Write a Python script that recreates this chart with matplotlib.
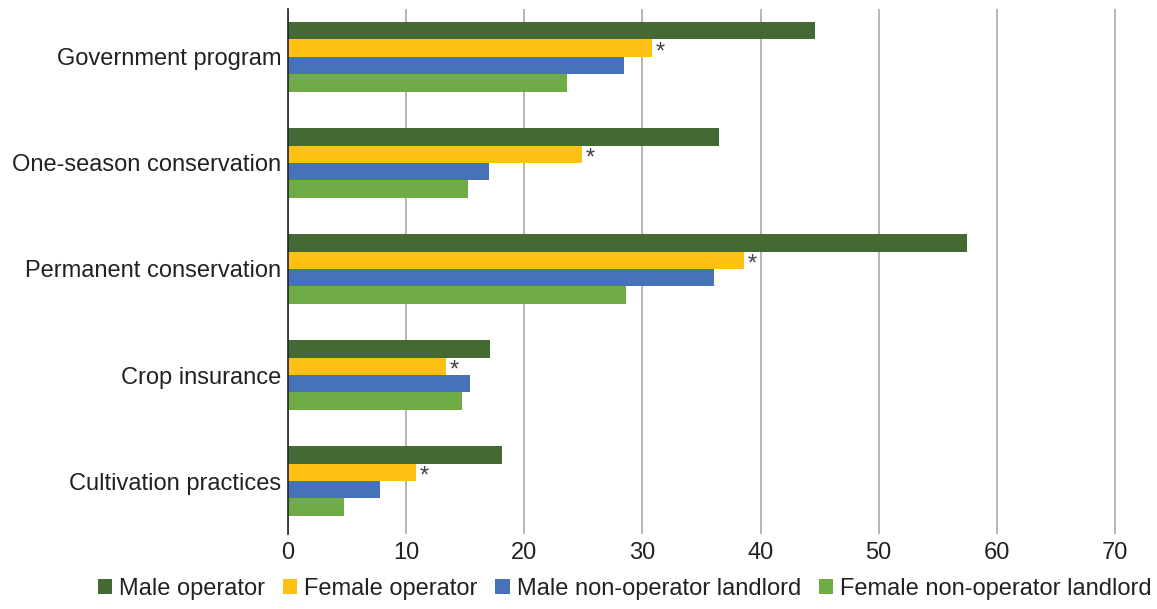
import numpy as np
import matplotlib
matplotlib.use("Agg")
import matplotlib.pyplot as plt

plt.rcParams['font.family'] = ['Liberation Sans', 'DejaVu Sans']

categories = ["Government program", "One-season conservation", "Permanent conservation",
              "Crop insurance", "Cultivation practices"]
series = ["Male operator", "Female operator", "Male non-operator landlord",
          "Female non-operator landlord"]
male_operator = [44.6, 36.5, 57.5, 17.1, 18.1]
female_operator = [30.8, 24.9, 38.6, 13.4, 10.8]
male_landlord = [28.4, 17.0, 36.1, 15.4, 7.8]
female_landlord = [23.6, 15.2, 28.6, 14.7, 4.7]
colors = ["#446932", "#FCC112", "#4672B8", "#70AC46"]
xticks = [0, 10, 20, 30, 40, 50, 60, 70]

values = [male_operator, female_operator, male_landlord, female_landlord]

fig = plt.figure(figsize=(11.57, 6.09), dpi=100)
# 70 on the x axis sits near pixel 1114
ax = fig.add_axes([0.249, 0.123, 0.735, 0.862])

y = np.arange(len(categories))
h = 0.164
for i, (name, vals, c) in enumerate(zip(series, values, colors)):
    ax.barh(y + (i - 1.5) * h, vals, height=h, color=c, label=name, zorder=3)

# significance markers next to female operator bars
for yi, v in zip(y, female_operator):
    ax.text(v + 0.3, yi - 0.5 * h + 0.04, "*", va="center", ha="left", fontsize=17,
            color="#404040", zorder=4)

ax.set_ylim(4.5, -0.45)
ax.set_xlim(0, 72)
ax.set_xticks(xticks)
ax.set_yticks(y)
ax.set_yticklabels(categories, fontsize=17, color="#222222")
ax.tick_params(axis='x', labelsize=17, length=0, pad=6, colors="#222222")
ax.tick_params(axis='y', length=0, pad=5)
ax.grid(axis='x', color="#B0B0B0", linewidth=1.3, zorder=0)
for s in ["top", "right", "bottom"]:
    ax.spines[s].set_visible(False)
ax.spines["left"].set_color("#222222")
ax.spines["left"].set_linewidth(1.2)
ax.spines["left"].set_zorder(5)

fig.legend(loc="lower center", bbox_to_anchor=(0.54, -0.02), ncol=4, frameon=False,
           fontsize=17, handlelength=0.6, handleheight=0.6, handletextpad=0.3,
           columnspacing=0.75, labelcolor="#222222")

fig.savefig("out.png", dpi=100)
